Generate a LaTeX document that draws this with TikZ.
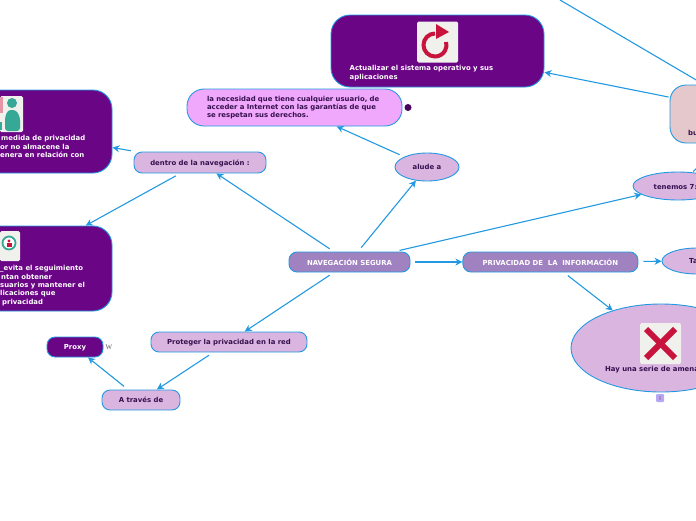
\documentclass[tikz,border=0pt]{standalone}
\usepackage{fontspec}
\setmainfont{DejaVu Sans}
\newfontfamily\wikifont{Liberation Serif}
\usepackage{tikz}
\usetikzlibrary{positioning}
\usetikzlibrary{arrows.meta}
\usetikzlibrary{shapes.geometric}
\definecolor{linkblue}{HTML}{2299E0}
\definecolor{darkpurple}{HTML}{6A0585}
\definecolor{midpurple}{HTML}{A082C0}
\definecolor{lilac}{HTML}{D9B5E0}
\definecolor{pinklilac}{HTML}{F0A8FC}
\definecolor{rosebox}{HTML}{E5C8CC}
\definecolor{inktext}{HTML}{36104E}
\definecolor{iconred}{HTML}{C8143C}
\definecolor{iconteal}{HTML}{35A896}
\definecolor{iconback}{HTML}{F0F0EC}
\tikzset{
    box/.style={draw=linkblue, line width=0.9pt, inner sep=0pt, font=\fontsize{6.9}{8.4}\selectfont\bfseries},
    darkbox/.style={box, fill=darkpurple, text=white, rounded corners=19pt, text height=5pt, text depth=0pt},
    pillbox/.style={box, fill=lilac, text=inktext, rounded corners=8pt, text height=5pt, text depth=0pt},
    mainbox/.style={box, fill=midpurple, text=white, rounded corners=8pt},
    oval/.style={box, ellipse, fill=lilac, text=inktext, text height=5pt, text depth=0pt},
    textonly/.style={inner sep=0pt, align=left, font=\fontsize{6.9}{8.4}\selectfont\bfseries},
    iconbox/.style={fill=iconback, rounded corners=1.5pt, inner sep=0pt},
    link/.style={draw=linkblue, line width=1.1pt, shorten <=5pt, -{Stealth[length=7pt,width=7pt]}},
    plainlink/.style={draw=linkblue, line width=1.1pt, shorten <=1pt},
}
\begin{document}
\begin{tikzpicture}[x=1pt, y=-1pt]
    \useasboundingbox (0,0) rectangle (696,520);
    \clip (0,0) rectangle (696,520);

    % main row
    \node [mainbox, minimum width=121pt, minimum height=20pt] (nav) at (349.5,262) {NAVEGACIÓN SEGURA};
    \node [mainbox, minimum width=175pt, minimum height=20pt, right=52pt of nav] (priv) {PRIVACIDAD DE\ \ LA\ \ INFORMACIÓN};

    % upper left
    \node [pillbox, minimum width=132pt, minimum height=21pt] (dentro) at (200,162.5) {dentro de la navegación :};
    \node [darkbox, minimum width=188pt, minimum height=83pt] (medida) at (18,131.5) {};
    \node [darkbox, minimum width=208pt, minimum height=85pt] (evita) at (8,268.5) {};
    \node [oval, minimum width=64pt, minimum height=28pt] (alude) at (427,167) {alude a};
    \node [box, fill=pinklilac, text=inktext, rounded corners=17pt, minimum width=215pt, minimum height=37pt, text width=175pt, align=left] (need) at (294.5,107.5) {\raisebox{-2.2pt}{\parbox{175pt}{la necesidad que tiene cualquier usuario, de\\acceder a Internet con las garantías de que\\se respetan sus derechos.}}};
    \node [darkbox, minimum width=213pt, minimum height=72pt] (update) at (437.5,51) {};

    % lower left
    \node [pillbox, minimum width=156pt, minimum height=20pt] (proteger) at (229,342) {Proteger la privacidad en la red};
    \node [pillbox, minimum width=78pt, minimum height=20pt] (atraves) at (141,400) {A través de};
    \node [darkbox, rounded corners=8pt, minimum width=56pt, minimum height=20pt] (proxy) at (75,347) {Proxy};

    % right side, cut off by the page
    \node [box, fill=rosebox, rounded corners=16pt, minimum width=168pt, minimum height=58pt] (rose) at (754,114) {};
    \node [oval, minimum width=90pt, minimum height=28pt] (tenemos) at (678,186) {};
    \node [oval, minimum width=70pt, minimum height=26pt] (tal) at (697,261) {};
    \node [oval, minimum width=180pt, minimum height=88pt] (amenazas) at (661,348) {};
    \coordinate (farend) at (560,0);

    % connectors
    \draw [link] (nav) -- (dentro);
    \draw [link] (nav) -- (alude);
    \draw [link] (nav) -- (tenemos);
    \draw [link] (nav) -- (priv);
    \draw [link] (nav) -- (proteger);
    \draw [link] (dentro) -- (medida);
    \draw [link] (dentro) -- (evita);
    \draw [link] (alude) -- (need);
    \draw [link] (proteger) -- (atraves);
    \draw [link] (atraves) -- (proxy);
    \draw [link] (priv) -- (tal);
    \draw [link] (priv) -- (amenazas);
    \draw [link, shorten <=1pt] (rose) -- (update);
    \draw [plainlink] (rose) -- (farend);
    \draw [plainlink] (tenemos) -- (rose);

    % texts of the cut nodes
    \node [textonly, text=white, anchor=west] (medidatext) at (0,146.5) {\hspace*{1pt}medida de privacidad\\or no almacene la\\enera en relación con};
    \node [textonly, text=white, anchor=west] (evitatext) at (0,285.5) {\_evita el seguimiento\\\hspace*{1pt}ntan obtener\\suarios y mantener el\\licaciones que\\\hspace*{2pt}privacidad};
    \node [textonly, text=white, anchor=north west] (updatetext) at (349.5,65.5) {Actualizar el sistema operativo y sus\\aplicaciones};
    \node [textonly, text=inktext, anchor=west] (rosetext) at (688,133) {bu};
    \node [textonly, text=inktext, anchor=west] (tenemostext) at (653.5,187) {tenemos 7:};
    \node [textonly, text=inktext, anchor=west] (taltext) at (689,261.5) {Ta};
    \node [textonly, text=inktext, anchor=west] (amenazastext) at (605,369.5) {Hay una serie de amena};

    % icons
    \node [iconbox, minimum width=41pt, minimum height=41pt] (reload) at (437.5,42) {};
    \draw [iconred, line width=4pt] (435,33.5) arc (90:375:11.5pt);
    \fill [iconred] (436,24) -- (449,32) -- (436,39) -- cycle;
    \node [iconbox, minimum width=41pt, minimum height=41pt] (cross) at (660.5,343.5) {};
    \draw [iconred, line width=6pt] (646,329) -- (675,358);
    \draw [iconred, line width=6pt] (675,329) -- (646,358);

    \node [iconbox, minimum width=23pt, minimum height=36pt] (person) at (11.5,114) {};
    \fill [iconteal] (12,103) circle (5pt);
    \fill [iconteal, rounded corners=3pt] (5,131) -- (5,117) -- (8,110) -- (16,110) -- (20,117) -- (20,131) -- cycle;
    \fill [iconred!45] (0,97) rectangle (3,113);
    \fill [iconteal] (0,122) rectangle (2,130);
    \node [iconbox, minimum width=20pt, minimum height=30pt] (search) at (10,246) {};
    \draw [iconteal, line width=1.8pt, fill=white] (9,243) circle (6.5pt);
    \fill [iconred] (9,241) circle (1.6pt);
    \fill [iconred] (6.5,247) rectangle (11.5,243);

    % small marks
    \node [circle, fill=darkpurple!70!black, minimum size=7pt, inner sep=0pt] (globe) at (408,107.5) {};
    \node [font=\fontsize{7}{7}\wikifont, text=black!65, inner sep=0pt] (wiki) at (109,347.5) {W};
    \node [fill=lilac!60!blue!60, rounded corners=1pt, minimum size=8pt, inner sep=0pt] (note) at (660,398) {};
    \node [fill=darkpurple!50, minimum width=2.5pt, minimum height=3.5pt, inner sep=0pt] (notemark) at (660,398) {};
\end{tikzpicture}
\end{document}
